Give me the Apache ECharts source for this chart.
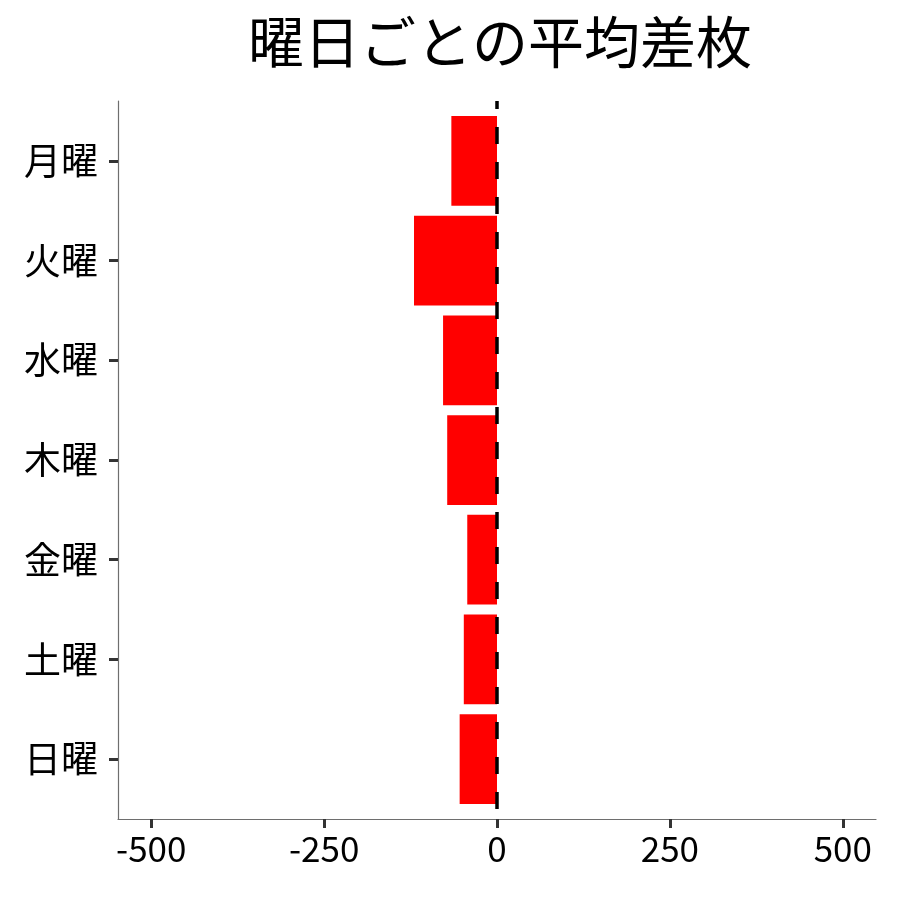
<!DOCTYPE html>
<html>
<head>
<meta charset="utf-8">
<script src="https://cdn.jsdelivr.net/npm/echarts@6/dist/echarts.min.js"></script>
<style>html,body{margin:0;padding:0;background:#fff}#c{width:900px;height:900px}</style>
</head>
<body>
<div id="c"></div>
<script>
const categories = ['月曜','火曜','水曜','木曜','金曜','土曜','日曜'];
const values = [-66, -120, -78, -72, -43, -48, -54];
const xTicks = [-500, -250, 0, 250, 500];
const titleText = '曜日ごとの平均差枚';

const FONT = '"Noto Sans CJK JP", "Noto Sans", sans-serif';
const chart = echarts.init(document.getElementById('c'), null, {renderer: 'canvas'});
const seriesData = values.map((v, i) => [v, i]);
const yIdx = categories.map((c, i) => i);

chart.setOption({
  backgroundColor: '#ffffff',
  animation: false,
  title: {
    text: titleText,
    left: 495,
    top: 9,
    textAlign: 'center',
    textStyle: {fontFamily: FONT, fontSize: 56, fontWeight: 'normal', color: '#000'}
  },
  grid: {left: 118, right: 24, top: 101, bottom: 81, containLabel: false},
  xAxis: {
    type: 'value',
    min: -548,
    max: 548,
    splitLine: {show: false},
    axisLine: {show: true, onZero: false, lineStyle: {color: '#6e6e6e', width: 1.2}},
    axisTick: {show: true, customValues: xTicks, length: 9, lineStyle: {color: '#333', width: 3}},
    axisLabel: {show: true, customValues: xTicks, margin: 12, fontFamily: FONT, fontSize: 35, color: '#000'}
  },
  yAxis: {
    type: 'value',
    min: -0.6,
    max: 6.6,
    inverse: true,
    splitLine: {show: false},
    axisLine: {show: true, onZero: false, lineStyle: {color: '#6e6e6e', width: 1.2}},
    axisTick: {show: true, customValues: yIdx, length: 9, lineStyle: {color: '#333', width: 3}},
    axisLabel: {
      show: true, customValues: yIdx, margin: 20,
      fontFamily: FONT, fontSize: 37, color: '#000',
      formatter: function (v) { return categories[Math.round(v)] || ''; }
    }
  },
  series: [
    {
      type: 'custom',
      data: seriesData,
      encode: {x: 0, y: 1},
      renderItem: function (params, api) {
        const v = api.value(0), i = api.value(1);
        const p0 = api.coord([0, i]);
        const p1 = api.coord([v, i]);
        const h = Math.abs(api.size([0, 1])[1]) * 0.9;
        return {
          type: 'rect',
          shape: {x: Math.min(p0[0], p1[0]), y: p0[1] - h / 2, width: Math.abs(p0[0] - p1[0]), height: h},
          style: {fill: '#ff0000'}
        };
      }
    },
    {
      type: 'line',
      data: [],
      z: 10,
      markLine: {
        silent: true,
        symbol: ['none', 'none'],
        label: {show: false},
        lineStyle: {type: [17, 18], dashOffset: 9, color: '#000', width: 3.5},
        data: [{xAxis: 0}]
      }
    }
  ]
});
</script>
</body>
</html>
